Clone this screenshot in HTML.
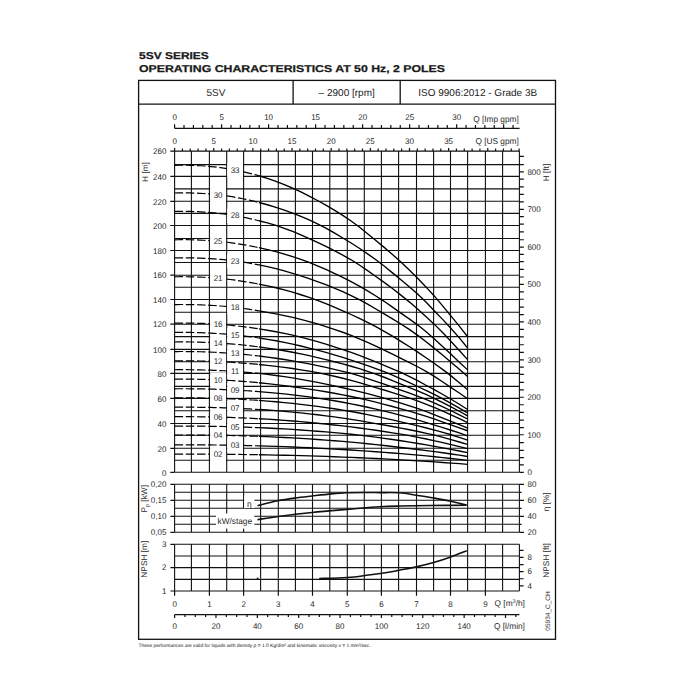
<!DOCTYPE html>
<html><head><meta charset="utf-8"><style>html,body{margin:0;padding:0;width:700px;height:700px;overflow:hidden;background:#fff}</style></head>
<body>
<svg width="700" height="700" viewBox="0 0 700 700" text-rendering="geometricPrecision" style="position:absolute;left:0;top:0">
<rect width="700" height="700" fill="#fff"/>
<text x="139" y="59" font-family="Liberation Sans, sans-serif" font-weight="bold" font-size="9.9" fill="#1a1a1a" stroke="#1a1a1a" stroke-width="0.25" textLength="69.8" lengthAdjust="spacingAndGlyphs">5SV SERIES</text>
<text x="139" y="71.8" font-family="Liberation Sans, sans-serif" font-weight="bold" font-size="9.9" fill="#1a1a1a" stroke="#1a1a1a" stroke-width="0.25" textLength="306" lengthAdjust="spacingAndGlyphs">OPERATING CHARACTERISTICS AT 50 Hz, 2 POLES</text>
<g fill="none" stroke="#111" stroke-width="1.3">
<rect x="138.6" y="80.4" width="416.9" height="558.9"/>
<line x1="138.6" y1="104.2" x2="555.5" y2="104.2"/>
<line x1="293.1" y1="80.4" x2="293.1" y2="104.2"/>
<line x1="400.2" y1="80.4" x2="400.2" y2="104.2"/>
</g>
<g font-family="Liberation Sans, sans-serif" font-size="10" fill="#222" text-anchor="middle">
<text x="216" y="96">5SV</text>
<text x="346.7" y="96">– 2900 [rpm]</text>
<text x="477.7" y="96">ISO 9906:2012 - Grade 3B</text>
</g>
<path fill="none" stroke="#111" stroke-width="1.1" d="M174.6 151.1V472.3M191.4 151.1V472.3M209.4 151.1V472.3M226.7 151.1V472.3M243.6 151.1V472.3M260.6 151.1V472.3M278.3 151.1V472.3M295.4 151.1V472.3M312.5 151.1V472.3M329.8 151.1V472.3M347.3 151.1V472.3M364.3 151.1V472.3M381.4 151.1V472.3M398.6 151.1V472.3M416.5 151.1V472.3M433.6 151.1V472.3M450.5 151.1V472.3M467.6 151.1V472.3M485.4 151.1V472.3M502.6 151.1V472.3M519.4 151.1V472.3M174.6 472.3H519.4M174.6 460.2H519.4M174.6 448.3H519.4M174.6 435.3H519.4M174.6 423.5H519.4M174.6 410.8H519.4M174.6 398.4H519.4M174.6 386.4H519.4M174.6 373.4H519.4M174.6 361.7H519.4M174.6 349.4H519.4M174.6 336.6H519.4M174.6 324.2H519.4M174.6 312.3H519.4M174.6 299.5H519.4M174.6 287.3H519.4M174.6 275.2H519.4M174.6 262.5H519.4M174.6 250.5H519.4M174.6 238.5H519.4M174.6 225.5H519.4M174.6 213.4H519.4M174.6 201.3H519.4M174.6 188.9H519.4M174.6 176.4H519.4M174.6 164.6H519.4M174.6 151.1H519.4M174.6 484.3V532.3M191.4 484.3V532.3M209.4 484.3V532.3M226.7 484.3V532.3M243.6 484.3V532.3M260.6 484.3V532.3M278.3 484.3V532.3M295.4 484.3V532.3M312.5 484.3V532.3M329.8 484.3V532.3M347.3 484.3V532.3M364.3 484.3V532.3M381.4 484.3V532.3M398.6 484.3V532.3M416.5 484.3V532.3M433.6 484.3V532.3M450.5 484.3V532.3M467.6 484.3V532.3M485.4 484.3V532.3M502.6 484.3V532.3M519.4 484.3V532.3M174.6 484.3H519.4M174.6 492.3H519.4M174.6 500.3H519.4M174.6 508.3H519.4M174.6 516.3H519.4M174.6 524.3H519.4M174.6 532.3H519.4M174.6 544.3V591M191.4 544.3V591M209.4 544.3V591M226.7 544.3V591M243.6 544.3V591M260.6 544.3V591M278.3 544.3V591M295.4 544.3V591M312.5 544.3V591M329.8 544.3V591M347.3 544.3V591M364.3 544.3V591M381.4 544.3V591M398.6 544.3V591M416.5 544.3V591M433.6 544.3V591M450.5 544.3V591M467.6 544.3V591M485.4 544.3V591M502.6 544.3V591M519.4 544.3V591M174.6 591H519.4M174.6 579.33H519.4M174.6 567.65H519.4M174.6 555.98H519.4M174.6 544.3H519.4"/>
<path fill="none" stroke="#111" stroke-width="1.2" d="M174.6 128.3H519.6M174.6 128.3V124.3M184 128.3V125.1M193.4 128.3V125.1M202.81 128.3V125.1M212.21 128.3V125.1M221.61 128.3V124.3M231.01 128.3V125.1M240.41 128.3V125.1M249.82 128.3V125.1M259.22 128.3V125.1M268.62 128.3V124.3M278.02 128.3V125.1M287.42 128.3V125.1M296.83 128.3V125.1M306.23 128.3V125.1M315.63 128.3V124.3M325.03 128.3V125.1M334.43 128.3V125.1M343.84 128.3V125.1M353.24 128.3V125.1M362.64 128.3V124.3M372.04 128.3V125.1M381.44 128.3V125.1M390.85 128.3V125.1M400.25 128.3V125.1M409.65 128.3V124.3M419.05 128.3V125.1M428.45 128.3V125.1M437.86 128.3V125.1M447.26 128.3V125.1M456.66 128.3V124.3M466.06 128.3V125.1M475.46 128.3V125.1M484.87 128.3V125.1M494.27 128.3V125.1M503.67 128.3V124.3M513.07 128.3V125.1M174.6 151.1V147.9M182.43 151.1V148.5M190.26 151.1V148.5M198.09 151.1V148.5M205.92 151.1V148.5M213.75 151.1V147.9M221.57 151.1V148.5M229.4 151.1V148.5M237.23 151.1V148.5M245.06 151.1V148.5M252.89 151.1V147.9M260.72 151.1V148.5M268.55 151.1V148.5M276.38 151.1V148.5M284.21 151.1V148.5M292.03 151.1V147.9M299.86 151.1V148.5M307.69 151.1V148.5M315.52 151.1V148.5M323.35 151.1V148.5M331.18 151.1V147.9M339.01 151.1V148.5M346.84 151.1V148.5M354.67 151.1V148.5M362.5 151.1V148.5M370.32 151.1V147.9M378.15 151.1V148.5M385.98 151.1V148.5M393.81 151.1V148.5M401.64 151.1V148.5M409.47 151.1V147.9M417.3 151.1V148.5M425.13 151.1V148.5M432.96 151.1V148.5M440.79 151.1V148.5M448.62 151.1V147.9M456.44 151.1V148.5M464.27 151.1V148.5M472.1 151.1V148.5M479.93 151.1V148.5M487.76 151.1V147.9M495.59 151.1V148.5M503.42 151.1V148.5M511.25 151.1V148.5M519.08 151.1V148.5M170.3 472.3H174.6M170.3 448.3H174.6M170.3 423.5H174.6M170.3 398.4H174.6M170.3 373.4H174.6M170.3 349.4H174.6M170.3 324.2H174.6M170.3 299.5H174.6M170.3 275.2H174.6M170.3 250.5H174.6M170.3 225.5H174.6M170.3 201.3H174.6M170.3 176.4H174.6M170.3 151.1H174.6M519.4 472.3H523.8M519.4 464.92H523.8M519.4 457.59H523.8M519.4 450.34H523.8M519.4 442.6H523.8M519.4 434.73H523.8M519.4 427.54H523.8M519.4 420.11H523.8M519.4 412.36H523.8M519.4 404.77H523.8M519.4 397.25H523.8M519.4 389.93H523.8M519.4 382.3H523.8M519.4 374.38H523.8M519.4 367.15H523.8M519.4 359.93H523.8M519.4 352.43H523.8M519.4 344.75H523.8M519.4 336.95H523.8M519.4 329.38H523.8M519.4 321.92H523.8M519.4 314.66H523.8M519.4 307.04H523.8M519.4 299.25H523.8M519.4 291.81H523.8M519.4 284.4H523.8M519.4 277.02H523.8M519.4 269.37H523.8M519.4 261.67H523.8M519.4 254.36H523.8M519.4 247.04H523.8M519.4 239.73H523.8M519.4 231.91H523.8M519.4 224.09H523.8M519.4 216.71H523.8M519.4 209.33H523.8M519.4 201.96H523.8M519.4 194.42H523.8M519.4 186.84H523.8M519.4 179.22H523.8M519.4 171.87H523.8M519.4 164.68H523.8M519.4 156.46H523.8M170.4 484.3H174.6M170.4 500.3H174.6M170.4 516.3H174.6M170.4 532.3H174.6M519.4 484.3H524M519.4 492.3H521.6M519.4 500.3H524M519.4 508.3H521.6M519.4 516.3H524M519.4 524.3H521.6M519.4 532.3H524M170.4 591H174.6M170.4 567.65H174.6M170.4 544.3H174.6M519.4 585.88H523.6M519.4 578.76H523.6M519.4 571.65H523.6M519.4 564.53H523.6M519.4 557.41H523.6M519.4 550.3H523.6M174.6 591V595.7M209.4 591V595.7M243.6 591V595.7M278.3 591V595.7M312.5 591V595.7M347.3 591V595.7M381.4 591V595.7M416.5 591V595.7M450.5 591V595.7M485.4 591V595.7M174.6 614.7H519.4M174.6 614.7V618M184.94 614.7V617M195.28 614.7V617M205.62 614.7V617M215.96 614.7V618M226.31 614.7V617M236.65 614.7V617M246.99 614.7V617M257.33 614.7V618M267.67 614.7V617M278.01 614.7V617M288.35 614.7V617M298.69 614.7V618M309.03 614.7V617M319.37 614.7V617M329.72 614.7V617M340.06 614.7V618M350.4 614.7V617M360.74 614.7V617M371.08 614.7V617M381.42 614.7V618M391.76 614.7V617M402.1 614.7V617M412.44 614.7V617M422.78 614.7V618M433.12 614.7V617M443.47 614.7V617M453.81 614.7V617M464.15 614.7V618M474.49 614.7V617M484.83 614.7V617M495.17 614.7V617M505.51 614.7V618M515.85 614.7V617"/>
<rect x="227.2" y="162.98" width="15.8" height="14.4" fill="#fff"/>
<rect x="210.2" y="187.7" width="15.8" height="14.4" fill="#fff"/>
<rect x="227.2" y="208.59" width="15.8" height="14.4" fill="#fff"/>
<rect x="210.2" y="234.21" width="15.8" height="14.4" fill="#fff"/>
<rect x="227.2" y="253.89" width="15.8" height="14.4" fill="#fff"/>
<rect x="210.2" y="271.16" width="15.8" height="14.4" fill="#fff"/>
<rect x="227.2" y="300.33" width="15.8" height="14.4" fill="#fff"/>
<rect x="210.2" y="317.14" width="15.8" height="14.4" fill="#fff"/>
<rect x="227.2" y="327.89" width="15.8" height="14.4" fill="#fff"/>
<rect x="210.2" y="335.85" width="15.8" height="14.4" fill="#fff"/>
<rect x="227.2" y="346.51" width="15.8" height="14.4" fill="#fff"/>
<rect x="210.2" y="354.47" width="15.8" height="14.4" fill="#fff"/>
<rect x="227.2" y="364.34" width="15.8" height="14.4" fill="#fff"/>
<rect x="210.2" y="372.78" width="15.8" height="14.4" fill="#fff"/>
<rect x="227.2" y="382.96" width="15.8" height="14.4" fill="#fff"/>
<rect x="210.2" y="391.24" width="15.8" height="14.4" fill="#fff"/>
<rect x="227.2" y="401.13" width="15.8" height="14.4" fill="#fff"/>
<rect x="210.2" y="410" width="15.8" height="14.4" fill="#fff"/>
<rect x="227.2" y="419.71" width="15.8" height="14.4" fill="#fff"/>
<rect x="210.2" y="428.17" width="15.8" height="14.4" fill="#fff"/>
<rect x="227.2" y="438.19" width="15.8" height="14.4" fill="#fff"/>
<rect x="210.2" y="447.13" width="15.8" height="14.4" fill="#fff"/>
<rect x="244.2" y="496" width="10.1" height="12" fill="#fff"/>
<rect x="216" y="513.5" width="38.3" height="15.1" fill="#fff"/>
<rect x="242.5" y="508.8" width="3" height="5" fill="#fff"/>
<path fill="none" stroke="#000" stroke-width="1.2" stroke-dasharray="8.5 2.7" d="M174.6 165.33 L177.77 165.26 L180.94 165.22 L184.1 165.22 L187.27 165.25 L190.44 165.32 L193.77 165.43 L197.16 165.58 L200.55 165.76 L203.95 165.99 L207.34 166.25 L210.68 166.55 L213.95 166.88 L217.21 167.26 L220.47 167.68 L223.73 168.13 L226.99 168.63 M243.66 171.87 L246.71 172.57 L249.76 173.32 L252.8 174.1 L255.85 174.92 L258.9 175.77 M174.6 192.98 L177.7 192.91 L180.8 192.87 L183.9 192.86 L187.01 192.89 L190.11 192.94 L193.34 193.03 L196.66 193.16 L199.98 193.32 L203.31 193.51 L206.63 193.73 L209.93 193.99 M226.99 195.95 L230.17 196.44 L233.35 196.96 L236.54 197.53 L239.72 198.13 L242.9 198.77 L246.1 199.44 L249.3 200.16 L252.5 200.91 L255.7 201.69 L258.9 202.5 M174.6 211.47 L177.77 211.4 L180.94 211.37 L184.1 211.37 L187.27 211.4 L190.44 211.47 L193.77 211.57 L197.16 211.7 L200.55 211.86 L203.95 212.06 L207.34 212.3 L210.68 212.56 L213.95 212.86 L217.21 213.2 L220.47 213.57 L223.73 213.97 L226.99 214.41 M243.66 217.28 L246.71 217.91 L249.76 218.57 L252.8 219.26 L255.85 219.98 L258.9 220.74 M174.6 239.79 L177.7 239.73 L180.8 239.7 L183.9 239.7 L187.01 239.72 L190.11 239.77 L193.34 239.85 L196.66 239.95 L199.98 240.08 L203.31 240.24 L206.63 240.42 L209.93 240.64 M226.99 242.26 L230.17 242.66 L233.35 243.1 L236.54 243.56 L239.72 244.06 L242.9 244.58 L246.1 245.14 L249.3 245.73 L252.5 246.35 L255.7 247 L258.9 247.68 M174.6 257.93 L177.77 257.87 L180.94 257.84 L184.1 257.84 L187.27 257.85 L190.44 257.9 L193.77 257.96 L197.16 258.05 L200.55 258.17 L203.95 258.31 L207.34 258.48 L210.68 258.67 L213.95 258.89 L217.21 259.14 L220.47 259.41 L223.73 259.71 L226.99 260.03 M243.66 262.18 L246.71 262.66 L249.76 263.18 L252.8 263.74 L255.85 264.32 L258.9 264.93 M174.6 276.78 L177.7 276.73 L180.8 276.71 L183.9 276.71 L187.01 276.74 L190.11 276.79 L193.34 276.86 L196.66 276.97 L199.98 277.09 L203.31 277.24 L206.63 277.42 L209.93 277.63 M226.99 279.15 L230.17 279.52 L233.35 279.92 L236.54 280.35 L239.72 280.81 L242.9 281.29 L246.1 281.8 L249.3 282.34 L252.5 282.91 L255.7 283.5 L258.9 284.12 M174.6 304.59 L177.77 304.54 L180.94 304.52 L184.1 304.52 L187.27 304.54 L190.44 304.58 L193.77 304.65 L197.16 304.74 L200.55 304.85 L203.95 304.98 L207.34 305.14 L210.68 305.32 L213.95 305.52 L217.21 305.75 L220.47 306 L223.73 306.27 L226.99 306.57 M243.66 308.5 L246.71 308.92 L249.76 309.37 L252.8 309.83 L255.85 310.32 L258.9 310.83 M174.6 323.12 L177.7 323.08 L180.8 323.06 L183.9 323.06 L187.01 323.09 L190.11 323.13 L193.34 323.18 L196.66 323.26 L199.98 323.36 L203.31 323.47 L206.63 323.61 L209.93 323.76 M226.99 324.94 L230.17 325.24 L233.35 325.55 L236.54 325.89 L239.72 326.25 L242.9 326.63 L246.1 327.03 L249.3 327.46 L252.5 327.91 L255.7 328.37 L258.9 328.86 M174.6 332.44 L177.77 332.41 L180.94 332.39 L184.1 332.39 L187.27 332.42 L190.44 332.46 L193.77 332.52 L197.16 332.6 L200.55 332.7 L203.95 332.83 L207.34 332.97 L210.68 333.13 L213.95 333.31 L217.21 333.51 L220.47 333.73 L223.73 333.97 L226.99 334.23 M243.66 335.92 L246.71 336.28 L249.76 336.67 L252.8 337.09 L255.85 337.53 L258.9 337.98 M174.6 341.98 L177.7 341.95 L180.8 341.93 L183.9 341.93 L187.01 341.94 L190.11 341.98 L193.34 342.02 L196.66 342.09 L199.98 342.17 L203.31 342.28 L206.63 342.39 L209.93 342.53 M226.99 343.54 L230.17 343.8 L233.35 344.07 L236.54 344.35 L239.72 344.66 L242.9 344.99 L246.1 345.33 L249.3 345.7 L252.5 346.08 L255.7 346.48 L258.9 346.9 M174.6 351.56 L177.77 351.53 L180.94 351.52 L184.1 351.52 L187.27 351.54 L190.44 351.57 L193.77 351.62 L197.16 351.68 L200.55 351.76 L203.95 351.86 L207.34 351.97 L210.68 352.1 L213.95 352.25 L217.21 352.41 L220.47 352.59 L223.73 352.78 L226.99 352.99 M243.66 354.37 L246.71 354.67 L249.76 354.98 L252.8 355.31 L255.85 355.66 L258.9 356.02 M174.6 360.86 L177.7 360.83 L180.8 360.81 L183.9 360.81 L187.01 360.82 L190.11 360.84 L193.34 360.88 L196.66 360.93 L199.98 360.99 L203.31 361.06 L206.63 361.15 L209.93 361.25 M226.99 362.01 L230.17 362.19 L233.35 362.39 L236.54 362.6 L239.72 362.82 L242.9 363.06 L246.1 363.31 L249.3 363.58 L252.5 363.86 L255.7 364.16 L258.9 364.47 M174.6 369.74 L177.77 369.72 L180.94 369.71 L184.1 369.71 L187.27 369.72 L190.44 369.75 L193.77 369.79 L197.16 369.85 L200.55 369.91 L203.95 369.99 L207.34 370.09 L210.68 370.19 L213.95 370.32 L217.21 370.45 L220.47 370.6 L223.73 370.76 L226.99 370.93 M243.66 372.07 L246.71 372.32 L249.76 372.58 L252.8 372.85 L255.85 373.14 L258.9 373.44 M174.6 379.16 L177.7 379.13 L180.8 379.12 L183.9 379.12 L187.01 379.14 L190.11 379.16 L193.34 379.2 L196.66 379.25 L199.98 379.31 L203.31 379.38 L206.63 379.47 L209.93 379.57 M226.99 380.32 L230.17 380.51 L233.35 380.71 L236.54 380.92 L239.72 381.14 L242.9 381.38 L246.1 381.63 L249.3 381.9 L252.5 382.18 L255.7 382.47 L258.9 382.78 M174.6 388.78 L177.77 388.76 L180.94 388.75 L184.1 388.75 L187.27 388.76 L190.44 388.78 L193.77 388.81 L197.16 388.85 L200.55 388.9 L203.95 388.96 L207.34 389.03 L210.68 389.11 L213.95 389.2 L217.21 389.3 L220.47 389.41 L223.73 389.54 L226.99 389.67 M243.66 390.55 L246.71 390.75 L249.76 390.95 L252.8 391.16 L255.85 391.39 L258.9 391.62 M174.6 397.85 L177.7 397.83 L180.8 397.82 L183.9 397.82 L187.01 397.83 L190.11 397.85 L193.34 397.87 L196.66 397.9 L199.98 397.94 L203.31 397.99 L206.63 398.05 L209.93 398.12 M226.99 398.65 L230.17 398.78 L233.35 398.93 L236.54 399.08 L239.72 399.24 L242.9 399.42 L246.1 399.6 L249.3 399.79 L252.5 400 L255.7 400.22 L258.9 400.44 M174.6 407.21 L177.77 407.19 L180.94 407.18 L184.1 407.18 L187.27 407.19 L190.44 407.2 L193.77 407.22 L197.16 407.26 L200.55 407.3 L203.95 407.34 L207.34 407.4 L210.68 407.46 L213.95 407.54 L217.21 407.62 L220.47 407.71 L223.73 407.81 L226.99 407.92 M243.66 408.63 L246.71 408.78 L249.76 408.95 L252.8 409.12 L255.85 409.3 L258.9 409.49 M174.6 416.72 L177.7 416.7 L180.8 416.69 L183.9 416.69 L187.01 416.7 L190.11 416.71 L193.34 416.73 L196.66 416.76 L199.98 416.79 L203.31 416.83 L206.63 416.88 L209.93 416.93 M226.99 417.34 L230.17 417.44 L233.35 417.55 L236.54 417.67 L239.72 417.8 L242.9 417.93 L246.1 418.07 L249.3 418.22 L252.5 418.38 L255.7 418.54 L258.9 418.72 M174.6 426.11 L177.77 426.1 L180.94 426.1 L184.1 426.1 L187.27 426.1 L190.44 426.11 L193.77 426.13 L197.16 426.15 L200.55 426.17 L203.95 426.21 L207.34 426.25 L210.68 426.29 L213.95 426.34 L217.21 426.4 L220.47 426.46 L223.73 426.52 L226.99 426.6 M243.66 427.08 L246.71 427.19 L249.76 427.3 L252.8 427.41 L255.85 427.54 L258.9 427.66 M174.6 435.03 L177.7 435.02 L180.8 435.02 L183.9 435.02 L187.01 435.02 L190.11 435.03 L193.34 435.04 L196.66 435.06 L199.98 435.08 L203.31 435.1 L206.63 435.13 L209.93 435.16 M226.99 435.43 L230.17 435.5 L233.35 435.58 L236.54 435.66 L239.72 435.74 L242.9 435.83 L246.1 435.93 L249.3 436.03 L252.5 436.14 L255.7 436.25 L258.9 436.37 M174.6 444.83 L177.77 444.82 L180.94 444.82 L184.1 444.82 L187.27 444.82 L190.44 444.83 L193.77 444.84 L197.16 444.85 L200.55 444.87 L203.95 444.89 L207.34 444.92 L210.68 444.94 L213.95 444.98 L217.21 445.01 L220.47 445.05 L223.73 445.1 L226.99 445.15 M243.66 445.47 L246.71 445.54 L249.76 445.61 L252.8 445.69 L255.85 445.77 L258.9 445.85 M174.6 454.11 L177.7 454.11 L180.8 454.11 L183.9 454.11 L187.01 454.11 L190.11 454.11 L193.34 454.12 L196.66 454.13 L199.98 454.14 L203.31 454.15 L206.63 454.16 L209.93 454.18 M226.99 454.31 L230.17 454.34 L233.35 454.38 L236.54 454.41 L239.72 454.45 L242.9 454.49 L246.1 454.54 L249.3 454.58 L252.5 454.63 L255.7 454.69 L258.9 454.74"/>
<path fill="none" stroke="#000" stroke-width="1.35" d="M258.9 175.77 L267.4 178.39 L275.96 181.33 L284.32 184.57 L292.6 188.12 L300.87 191.95 L309.15 196.07 L317.48 200.51 L325.86 205.17 L334.28 210.12 L342.75 215.39 L351.11 220.97 L359.34 226.97 L367.58 233.66 L375.86 240.54 L384.15 247.37 L392.48 254.54 L400.89 262.04 L409.55 270.31 L418.14 278.8 L426.42 287.41 L434.68 296.44 L442.86 306.15 L451.05 316.1 L459.32 326.05 L467.6 336.72 M258.9 202.5 L267.4 204.76 L275.96 207.28 L284.32 210.06 L292.6 213.1 L300.87 216.41 L309.15 219.99 L317.48 223.85 L325.86 228.18 L334.28 232.93 L342.75 238 L351.11 243 L359.34 248.26 L367.58 253.82 L375.86 259.67 L384.15 266.03 L392.48 272.88 L400.89 279.84 L409.55 287 L418.14 294.55 L426.42 302.58 L434.68 311.2 L442.86 319.62 L451.05 328.47 L459.32 337.91 L467.6 347.97 M258.9 220.74 L267.4 222.96 L275.96 225.41 L284.32 228.32 L292.6 231.49 L300.87 234.95 L309.15 238.66 L317.48 242.36 L325.86 246.32 L334.28 250.55 L342.75 255.04 L351.11 259.8 L359.34 264.97 L367.58 270.59 L375.86 276.45 L384.15 282.37 L392.48 288.58 L400.89 295.14 L409.55 302.1 L418.14 309.6 L426.42 317.06 L434.68 324.64 L442.86 332.83 L451.05 341.49 L459.32 350.55 L467.6 359.63 M258.9 247.68 L267.4 249.58 L275.96 251.7 L284.32 254.04 L292.6 256.59 L300.87 259.37 L309.15 262.38 L317.48 265.8 L325.86 269.48 L334.28 273.4 L342.75 277.47 L351.11 281.7 L359.34 286.17 L367.58 290.93 L375.86 295.95 L384.15 301.31 L392.48 307.13 L400.89 313.16 L409.55 319.09 L418.14 325.33 L426.42 332.07 L434.68 339.17 L442.86 346.71 L451.05 354.35 L459.32 362.15 L467.6 369.88 M258.9 264.93 L267.4 266.71 L275.96 268.69 L284.32 270.89 L292.6 273.3 L300.87 275.9 L309.15 278.61 L317.48 281.54 L325.86 284.69 L334.28 288.06 L342.75 291.69 L351.11 295.54 L359.34 299.64 L367.58 304.18 L375.86 308.97 L384.15 313.9 L392.48 318.83 L400.89 324.02 L409.55 329.67 L418.14 335.59 L426.42 341.95 L434.68 348.62 L442.86 355.33 L451.05 362.26 L459.32 369.15 L467.6 376.62 M258.9 284.12 L267.4 285.85 L275.96 287.78 L284.32 289.9 L292.6 292.22 L300.87 294.73 L309.15 297.43 L317.48 300.38 L325.86 303.63 L334.28 307.1 L342.75 310.78 L351.11 314.5 L359.34 318.32 L367.58 322.35 L375.86 326.67 L384.15 331.29 L392.48 336.13 L400.89 341.33 L409.55 346.77 L418.14 352.32 L426.42 358 L434.68 363.78 L442.86 369.6 L451.05 375.89 L459.32 382.84 L467.6 389.75 M258.9 310.83 L267.4 312.32 L275.96 313.86 L284.32 315.56 L292.6 317.41 L300.87 319.42 L309.15 321.59 L317.48 323.93 L325.86 326.52 L334.28 329.3 L342.75 332.25 L351.11 335.38 L359.34 338.76 L367.58 342.37 L375.86 346.16 L384.15 350.11 L392.48 354.12 L400.89 358.32 L409.55 362.66 L418.14 367.02 L426.42 371.56 L434.68 376.6 L442.86 382.06 L451.05 387.63 L459.32 393.05 L467.6 398.69 M258.9 328.86 L267.4 330.22 L275.96 331.73 L284.32 333.39 L292.6 335.19 L300.87 337.16 L309.15 339.34 L317.48 341.67 L325.86 344.16 L334.28 346.81 L342.75 349.62 L351.11 352.48 L359.34 355.49 L367.58 358.67 L375.86 361.99 L384.15 365.32 L392.48 368.8 L400.89 372.43 L409.55 376.54 L418.14 380.93 L426.42 385.5 L434.68 389.95 L442.86 394.5 L451.05 399.24 L459.32 404.28 L467.6 409.5 M258.9 337.98 L267.4 339.31 L275.96 340.77 L284.32 342.38 L292.6 344.13 L300.87 346.03 L309.15 348.07 L317.48 350.22 L325.86 352.46 L334.28 354.85 L342.75 357.37 L351.11 360.04 L359.34 362.8 L367.58 365.61 L375.86 368.57 L384.15 371.66 L392.48 375.06 L400.89 378.82 L409.55 382.73 L418.14 386.76 L426.42 390.67 L434.68 394.72 L442.86 398.94 L451.05 403.44 L459.32 408.09 L467.6 412.95 M258.9 346.9 L267.4 348.08 L275.96 349.38 L284.32 350.76 L292.6 352.26 L300.87 353.9 L309.15 355.66 L317.48 357.56 L325.86 359.59 L334.28 361.75 L342.75 363.94 L351.11 366.25 L359.34 368.7 L367.58 371.29 L375.86 374.07 L384.15 377.25 L392.48 380.57 L400.89 384.05 L409.55 387.59 L418.14 391.09 L426.42 394.73 L434.68 398.53 L442.86 402.61 L451.05 406.84 L459.32 411.24 L467.6 415.9 M258.9 356.02 L267.4 357.07 L275.96 358.24 L284.32 359.52 L292.6 360.92 L300.87 362.4 L309.15 363.95 L317.48 365.61 L325.86 367.39 L334.28 369.29 L342.75 371.3 L351.11 373.43 L359.34 375.93 L367.58 378.56 L375.86 381.32 L384.15 384.21 L392.48 387.18 L400.89 390.1 L409.55 393.15 L418.14 396.33 L426.42 399.68 L434.68 403.23 L442.86 406.91 L451.05 410.74 L459.32 414.79 L467.6 418.98 M258.9 364.47 L267.4 365.34 L275.96 366.31 L284.32 367.37 L292.6 368.54 L300.87 369.82 L309.15 371.2 L317.48 372.68 L325.86 374.37 L334.28 376.26 L342.75 378.28 L351.11 380.42 L359.34 382.69 L367.58 385.09 L375.86 387.53 L384.15 389.99 L392.48 392.57 L400.89 395.28 L409.55 398.11 L418.14 401.17 L426.42 404.37 L434.68 407.7 L442.86 411.18 L451.05 414.88 L459.32 418.73 L467.6 422.72 M258.9 373.44 L267.4 374.4 L275.96 375.47 L284.32 376.64 L292.6 377.92 L300.87 379.3 L309.15 380.79 L317.48 382.39 L325.86 384.09 L334.28 385.91 L342.75 387.72 L351.11 389.6 L359.34 391.58 L367.58 393.67 L375.86 395.86 L384.15 398.15 L392.48 400.63 L400.89 403.22 L409.55 405.92 L418.14 408.73 L426.42 411.68 L434.68 414.79 L442.86 418.02 L451.05 421.37 L459.32 424.74 L467.6 428.07 M258.9 382.78 L267.4 383.63 L275.96 384.58 L284.32 385.62 L292.6 386.72 L300.87 387.86 L309.15 389.08 L317.48 390.38 L325.86 391.78 L334.28 393.27 L342.75 394.84 L351.11 396.51 L359.34 398.27 L367.58 400.18 L375.86 402.19 L384.15 404.3 L392.48 406.5 L400.89 408.8 L409.55 411.21 L418.14 413.77 L426.42 416.44 L434.68 419.2 L442.86 422.07 L451.05 424.94 L459.32 427.8 L467.6 430.76 M258.9 391.62 L267.4 392.31 L275.96 393.07 L284.32 393.92 L292.6 394.84 L300.87 395.85 L309.15 396.93 L317.48 398.1 L325.86 399.39 L334.28 400.78 L342.75 402.26 L351.11 403.83 L359.34 405.49 L367.58 407.25 L375.86 409.1 L384.15 411.06 L392.48 413.16 L400.89 415.36 L409.55 417.66 L418.14 420.06 L426.42 422.58 L434.68 425.07 L442.86 427.61 L451.05 430.24 L459.32 432.98 L467.6 435.87 M258.9 400.44 L267.4 401.07 L275.96 401.77 L284.32 402.55 L292.6 403.4 L300.87 404.32 L309.15 405.32 L317.48 406.4 L325.86 407.55 L334.28 408.78 L342.75 410.1 L351.11 411.51 L359.34 413.03 L367.58 414.63 L375.86 416.31 L384.15 418.09 L392.48 419.95 L400.89 421.91 L409.55 423.92 L418.14 425.91 L426.42 427.98 L434.68 430.14 L442.86 432.39 L451.05 434.74 L459.32 437.36 L467.6 440.14 M258.9 409.49 L267.4 410.04 L275.96 410.65 L284.32 411.34 L292.6 412.1 L300.87 412.93 L309.15 413.83 L317.48 414.79 L325.86 415.83 L334.28 416.93 L342.75 418.11 L351.11 419.36 L359.34 420.68 L367.58 422.08 L375.86 423.56 L384.15 425 L392.48 426.51 L400.89 428.1 L409.55 429.77 L418.14 431.51 L426.42 433.32 L434.68 435.21 L442.86 437.37 L451.05 439.63 L459.32 441.98 L467.6 444.41 M258.9 418.72 L267.4 419.2 L275.96 419.74 L284.32 420.34 L292.6 420.99 L300.87 421.7 L309.15 422.46 L317.48 423.29 L325.86 424.13 L334.28 425.01 L342.75 425.95 L351.11 426.95 L359.34 428 L367.58 429.12 L375.86 430.29 L384.15 431.53 L392.48 432.83 L400.89 434.19 L409.55 435.65 L418.14 437.29 L426.42 439 L434.68 440.79 L442.86 442.65 L451.05 444.58 L459.32 446.59 L467.6 448.65 M258.9 427.66 L267.4 428.04 L275.96 428.46 L284.32 428.92 L292.6 429.42 L300.87 429.97 L309.15 430.57 L317.48 431.21 L325.86 431.89 L334.28 432.63 L342.75 433.41 L351.11 434.24 L359.34 435.12 L367.58 436.12 L375.86 437.2 L384.15 438.34 L392.48 439.53 L400.89 440.78 L409.55 442.09 L418.14 443.46 L426.42 444.89 L434.68 446.37 L442.86 447.92 L451.05 449.43 L459.32 450.97 L467.6 452.56 M258.9 436.37 L267.4 436.7 L275.96 437.07 L284.32 437.47 L292.6 437.92 L300.87 438.4 L309.15 438.93 L317.48 439.49 L325.86 440.1 L334.28 440.74 L342.75 441.43 L351.11 442.16 L359.34 442.94 L367.58 443.76 L375.86 444.62 L384.15 445.53 L392.48 446.48 L400.89 447.48 L409.55 448.51 L418.14 449.51 L426.42 450.56 L434.68 451.65 L442.86 452.78 L451.05 453.97 L459.32 455.19 L467.6 456.47 M258.9 445.85 L267.4 446.1 L275.96 446.38 L284.32 446.68 L292.6 447.01 L300.87 447.38 L309.15 447.77 L317.48 448.19 L325.86 448.62 L334.28 449.06 L342.75 449.53 L351.11 450.04 L359.34 450.57 L367.58 451.13 L375.86 451.72 L384.15 452.35 L392.48 453 L400.89 453.69 L409.55 454.41 L418.14 455.16 L426.42 455.94 L434.68 456.76 L442.86 457.61 L451.05 458.5 L459.32 459.42 L467.6 460.38 M258.9 454.74 L267.4 454.89 L275.96 455.06 L284.32 455.25 L292.6 455.45 L300.87 455.67 L309.15 455.91 L317.48 456.17 L325.86 456.45 L334.28 456.74 L342.75 457.06 L351.11 457.39 L359.34 457.75 L367.58 458.12 L375.86 458.52 L384.15 458.93 L392.48 459.37 L400.89 459.83 L409.55 460.31 L418.14 460.82 L426.42 461.35 L434.68 461.9 L442.86 462.48 L451.05 463.08 L459.32 463.7 L467.6 464.35"/>
<path fill="none" stroke="#111" stroke-width="1.6" d="M257.5 505.7 C260.88 504.88 271.55 502.08 277.8 500.8 C284.05 499.52 289.3 498.8 295 498 C300.7 497.2 305.93 496.68 312 496 C318.07 495.32 325.67 494.43 331.4 493.9 C337.13 493.37 340.97 493.03 346.4 492.8 C351.83 492.57 358.4 492.53 364 492.5 C369.6 492.47 374.12 492.55 380 492.6 C385.88 492.65 393.23 492.37 399.3 492.8 C405.37 493.23 410.7 494.33 416.4 495.2 C422.1 496.07 427.78 497 433.5 498 C439.22 499 445.17 500.03 450.7 501.2 C456.23 502.37 464.03 504.37 466.7 505 M257.5 519.6 C261.6 519 273.02 517.18 282.1 516 C291.18 514.82 301.35 513.58 312 512.5 C322.65 511.42 334.67 510.45 346 509.5 C357.33 508.55 371 507.38 380 506.8 C389 506.22 391.67 506.22 400 506 C408.33 505.78 418.88 505.63 430 505.5 C441.12 505.37 460.58 505.25 466.7 505.2 M319.2 578.5 C323.83 578.33 338.78 578.08 347 577.5 C355.22 576.92 361.33 575.92 368.5 575 C375.67 574.08 384.87 572.8 390 572 C395.13 571.2 394.9 571.05 399.3 570.2 C403.7 569.35 410.7 568.17 416.4 566.9 C422.1 565.63 427.78 564.25 433.5 562.6 C439.22 560.95 445.17 558.97 450.7 557 C456.23 555.03 464.03 551.83 466.7 550.8"/>
<path fill="none" stroke="#999" stroke-width="0.6" stroke-dasharray="1 5" d="M260 578.6H319"/>
<circle cx="257.6" cy="578.5" r="0.9" fill="#111"/>
<g font-family="Liberation Sans, sans-serif" fill="#2a2a2a"><text x="174.6" y="120" text-anchor="middle" font-size="8.24" textLength="4.45" lengthAdjust="spacingAndGlyphs" >0</text><text x="221.61" y="120" text-anchor="middle" font-size="8.24" textLength="4.45" lengthAdjust="spacingAndGlyphs" >5</text><text x="268.62" y="120" text-anchor="middle" font-size="8.24" textLength="8.9" lengthAdjust="spacingAndGlyphs" >10</text><text x="315.63" y="120" text-anchor="middle" font-size="8.24" textLength="8.9" lengthAdjust="spacingAndGlyphs" >15</text><text x="362.64" y="120" text-anchor="middle" font-size="8.24" textLength="8.9" lengthAdjust="spacingAndGlyphs" >20</text><text x="409.65" y="120" text-anchor="middle" font-size="8.24" textLength="8.9" lengthAdjust="spacingAndGlyphs" >25</text><text x="456.66" y="120" text-anchor="middle" font-size="8.24" textLength="8.9" lengthAdjust="spacingAndGlyphs" >30</text><text x="174.6" y="143.8" text-anchor="middle" font-size="8.24" textLength="4.45" lengthAdjust="spacingAndGlyphs" >0</text><text x="213.75" y="143.8" text-anchor="middle" font-size="8.24" textLength="4.45" lengthAdjust="spacingAndGlyphs" >5</text><text x="252.89" y="143.8" text-anchor="middle" font-size="8.24" textLength="8.9" lengthAdjust="spacingAndGlyphs" >10</text><text x="292.03" y="143.8" text-anchor="middle" font-size="8.24" textLength="8.9" lengthAdjust="spacingAndGlyphs" >15</text><text x="331.18" y="143.8" text-anchor="middle" font-size="8.24" textLength="8.9" lengthAdjust="spacingAndGlyphs" >20</text><text x="370.32" y="143.8" text-anchor="middle" font-size="8.24" textLength="8.9" lengthAdjust="spacingAndGlyphs" >25</text><text x="409.47" y="143.8" text-anchor="middle" font-size="8.24" textLength="8.9" lengthAdjust="spacingAndGlyphs" >30</text><text x="448.62" y="143.8" text-anchor="middle" font-size="8.24" textLength="8.9" lengthAdjust="spacingAndGlyphs" >35</text><text x="518.8" y="121.7" text-anchor="end" font-size="8.55" textLength="45.66" lengthAdjust="spacingAndGlyphs" >Q [Imp gpm]</text><text x="518.8" y="143.6" text-anchor="end" font-size="8.55" textLength="43.35" lengthAdjust="spacingAndGlyphs" >Q [US gpm]</text><text x="166.4" y="475.5" text-anchor="end" font-size="8.24" textLength="4.45" lengthAdjust="spacingAndGlyphs" >0</text><text x="166.4" y="451.5" text-anchor="end" font-size="8.24" textLength="8.9" lengthAdjust="spacingAndGlyphs" >20</text><text x="166.4" y="426.7" text-anchor="end" font-size="8.24" textLength="8.9" lengthAdjust="spacingAndGlyphs" >40</text><text x="166.4" y="401.6" text-anchor="end" font-size="8.24" textLength="8.9" lengthAdjust="spacingAndGlyphs" >60</text><text x="166.4" y="376.6" text-anchor="end" font-size="8.24" textLength="8.9" lengthAdjust="spacingAndGlyphs" >80</text><text x="166.4" y="352.6" text-anchor="end" font-size="8.24" textLength="13.35" lengthAdjust="spacingAndGlyphs" >100</text><text x="166.4" y="327.4" text-anchor="end" font-size="8.24" textLength="13.35" lengthAdjust="spacingAndGlyphs" >120</text><text x="166.4" y="302.7" text-anchor="end" font-size="8.24" textLength="13.35" lengthAdjust="spacingAndGlyphs" >140</text><text x="166.4" y="278.4" text-anchor="end" font-size="8.24" textLength="13.35" lengthAdjust="spacingAndGlyphs" >160</text><text x="166.4" y="253.7" text-anchor="end" font-size="8.24" textLength="13.35" lengthAdjust="spacingAndGlyphs" >180</text><text x="166.4" y="228.7" text-anchor="end" font-size="8.24" textLength="13.35" lengthAdjust="spacingAndGlyphs" >200</text><text x="166.4" y="204.5" text-anchor="end" font-size="8.24" textLength="13.35" lengthAdjust="spacingAndGlyphs" >220</text><text x="166.4" y="179.6" text-anchor="end" font-size="8.24" textLength="13.35" lengthAdjust="spacingAndGlyphs" >240</text><text x="166.4" y="154.3" text-anchor="end" font-size="8.24" textLength="13.35" lengthAdjust="spacingAndGlyphs" >260</text><text x="527.4" y="475.1" text-anchor="start" font-size="8.24" textLength="4.45" lengthAdjust="spacingAndGlyphs" >0</text><text x="527.4" y="437.53" text-anchor="start" font-size="8.24" textLength="13.35" lengthAdjust="spacingAndGlyphs" >100</text><text x="527.4" y="400.05" text-anchor="start" font-size="8.24" textLength="13.35" lengthAdjust="spacingAndGlyphs" >200</text><text x="527.4" y="362.73" text-anchor="start" font-size="8.24" textLength="13.35" lengthAdjust="spacingAndGlyphs" >300</text><text x="527.4" y="324.72" text-anchor="start" font-size="8.24" textLength="13.35" lengthAdjust="spacingAndGlyphs" >400</text><text x="527.4" y="287.2" text-anchor="start" font-size="8.24" textLength="13.35" lengthAdjust="spacingAndGlyphs" >500</text><text x="527.4" y="249.84" text-anchor="start" font-size="8.24" textLength="13.35" lengthAdjust="spacingAndGlyphs" >600</text><text x="527.4" y="212.13" text-anchor="start" font-size="8.24" textLength="13.35" lengthAdjust="spacingAndGlyphs" >700</text><text x="527.4" y="174.67" text-anchor="start" font-size="8.24" textLength="13.35" lengthAdjust="spacingAndGlyphs" >800</text><text x="166.4" y="487.1" text-anchor="end" font-size="8.24" textLength="15.57" lengthAdjust="spacingAndGlyphs" >0,20</text><text x="166.4" y="503.1" text-anchor="end" font-size="8.24" textLength="15.57" lengthAdjust="spacingAndGlyphs" >0,15</text><text x="166.4" y="519.1" text-anchor="end" font-size="8.24" textLength="15.57" lengthAdjust="spacingAndGlyphs" >0,10</text><text x="166.4" y="535.1" text-anchor="end" font-size="8.24" textLength="15.57" lengthAdjust="spacingAndGlyphs" >0,05</text><text x="527.5" y="487.1" text-anchor="start" font-size="8.24" textLength="8.9" lengthAdjust="spacingAndGlyphs" >80</text><text x="527.5" y="503.1" text-anchor="start" font-size="8.24" textLength="8.9" lengthAdjust="spacingAndGlyphs" >60</text><text x="527.5" y="519.1" text-anchor="start" font-size="8.24" textLength="8.9" lengthAdjust="spacingAndGlyphs" >40</text><text x="527.5" y="535.1" text-anchor="start" font-size="8.24" textLength="8.9" lengthAdjust="spacingAndGlyphs" >20</text><text x="166.4" y="593.8" text-anchor="end" font-size="8.24" textLength="4.45" lengthAdjust="spacingAndGlyphs" >1</text><text x="166.4" y="570.45" text-anchor="end" font-size="8.24" textLength="4.45" lengthAdjust="spacingAndGlyphs" >2</text><text x="166.4" y="547.1" text-anchor="end" font-size="8.24" textLength="4.45" lengthAdjust="spacingAndGlyphs" >3</text><text x="527.4" y="588.68" text-anchor="start" font-size="8.24" textLength="4.45" lengthAdjust="spacingAndGlyphs" >4</text><text x="527.4" y="574.45" text-anchor="start" font-size="8.24" textLength="4.45" lengthAdjust="spacingAndGlyphs" >6</text><text x="527.4" y="560.21" text-anchor="start" font-size="8.24" textLength="4.45" lengthAdjust="spacingAndGlyphs" >8</text><text x="174.6" y="607" text-anchor="middle" font-size="8.24" textLength="4.45" lengthAdjust="spacingAndGlyphs" >0</text><text x="209.4" y="607" text-anchor="middle" font-size="8.24" textLength="4.45" lengthAdjust="spacingAndGlyphs" >1</text><text x="243.6" y="607" text-anchor="middle" font-size="8.24" textLength="4.45" lengthAdjust="spacingAndGlyphs" >2</text><text x="278.3" y="607" text-anchor="middle" font-size="8.24" textLength="4.45" lengthAdjust="spacingAndGlyphs" >3</text><text x="312.5" y="607" text-anchor="middle" font-size="8.24" textLength="4.45" lengthAdjust="spacingAndGlyphs" >4</text><text x="347.3" y="607" text-anchor="middle" font-size="8.24" textLength="4.45" lengthAdjust="spacingAndGlyphs" >5</text><text x="381.4" y="607" text-anchor="middle" font-size="8.24" textLength="4.45" lengthAdjust="spacingAndGlyphs" >6</text><text x="416.5" y="607" text-anchor="middle" font-size="8.24" textLength="4.45" lengthAdjust="spacingAndGlyphs" >7</text><text x="450.5" y="607" text-anchor="middle" font-size="8.24" textLength="4.45" lengthAdjust="spacingAndGlyphs" >8</text><text x="485.4" y="607" text-anchor="middle" font-size="8.24" textLength="4.45" lengthAdjust="spacingAndGlyphs" >9</text><text x="174.6" y="629.2" text-anchor="middle" font-size="8.24" textLength="4.45" lengthAdjust="spacingAndGlyphs" >0</text><text x="215.96" y="629.2" text-anchor="middle" font-size="8.24" textLength="8.9" lengthAdjust="spacingAndGlyphs" >20</text><text x="257.33" y="629.2" text-anchor="middle" font-size="8.24" textLength="8.9" lengthAdjust="spacingAndGlyphs" >40</text><text x="298.69" y="629.2" text-anchor="middle" font-size="8.24" textLength="8.9" lengthAdjust="spacingAndGlyphs" >60</text><text x="340.06" y="629.2" text-anchor="middle" font-size="8.24" textLength="8.9" lengthAdjust="spacingAndGlyphs" >80</text><text x="381.42" y="629.2" text-anchor="middle" font-size="8.24" textLength="13.35" lengthAdjust="spacingAndGlyphs" >100</text><text x="422.78" y="629.2" text-anchor="middle" font-size="8.24" textLength="13.35" lengthAdjust="spacingAndGlyphs" >120</text><text x="464.15" y="629.2" text-anchor="middle" font-size="8.24" textLength="13.35" lengthAdjust="spacingAndGlyphs" >140</text><text x="524.9" y="606.3" text-anchor="end" font-size="8.3">Q [m<tspan font-size="5.5" dy="-3">3</tspan><tspan dy="3">/h]</tspan></text><text x="524.9" y="629.2" text-anchor="end" font-size="8.55" textLength="30.9" lengthAdjust="spacingAndGlyphs" >Q [l/min]</text><text x="235.1" y="172.78" text-anchor="middle" font-size="8.24" textLength="8.9" lengthAdjust="spacingAndGlyphs" >33</text><text x="218.1" y="197.5" text-anchor="middle" font-size="8.24" textLength="8.9" lengthAdjust="spacingAndGlyphs" >30</text><text x="235.1" y="218.39" text-anchor="middle" font-size="8.24" textLength="8.9" lengthAdjust="spacingAndGlyphs" >28</text><text x="218.1" y="244.01" text-anchor="middle" font-size="8.24" textLength="8.9" lengthAdjust="spacingAndGlyphs" >25</text><text x="235.1" y="263.69" text-anchor="middle" font-size="8.24" textLength="8.9" lengthAdjust="spacingAndGlyphs" >23</text><text x="218.1" y="280.96" text-anchor="middle" font-size="8.24" textLength="8.9" lengthAdjust="spacingAndGlyphs" >21</text><text x="235.1" y="310.13" text-anchor="middle" font-size="8.24" textLength="8.9" lengthAdjust="spacingAndGlyphs" >18</text><text x="218.1" y="326.94" text-anchor="middle" font-size="8.24" textLength="8.9" lengthAdjust="spacingAndGlyphs" >16</text><text x="235.1" y="337.69" text-anchor="middle" font-size="8.24" textLength="8.9" lengthAdjust="spacingAndGlyphs" >15</text><text x="218.1" y="345.65" text-anchor="middle" font-size="8.24" textLength="8.9" lengthAdjust="spacingAndGlyphs" >14</text><text x="235.1" y="356.31" text-anchor="middle" font-size="8.24" textLength="8.9" lengthAdjust="spacingAndGlyphs" >13</text><text x="218.1" y="364.27" text-anchor="middle" font-size="8.24" textLength="8.9" lengthAdjust="spacingAndGlyphs" >12</text><text x="235.1" y="374.14" text-anchor="middle" font-size="8.24" textLength="8.3" lengthAdjust="spacingAndGlyphs" >11</text><text x="218.1" y="382.58" text-anchor="middle" font-size="8.24" textLength="8.9" lengthAdjust="spacingAndGlyphs" >10</text><text x="235.1" y="392.76" text-anchor="middle" font-size="8.24" textLength="8.9" lengthAdjust="spacingAndGlyphs" >09</text><text x="218.1" y="401.04" text-anchor="middle" font-size="8.24" textLength="8.9" lengthAdjust="spacingAndGlyphs" >08</text><text x="235.1" y="410.93" text-anchor="middle" font-size="8.24" textLength="8.9" lengthAdjust="spacingAndGlyphs" >07</text><text x="218.1" y="419.8" text-anchor="middle" font-size="8.24" textLength="8.9" lengthAdjust="spacingAndGlyphs" >06</text><text x="235.1" y="429.51" text-anchor="middle" font-size="8.24" textLength="8.9" lengthAdjust="spacingAndGlyphs" >05</text><text x="218.1" y="437.97" text-anchor="middle" font-size="8.24" textLength="8.9" lengthAdjust="spacingAndGlyphs" >04</text><text x="235.1" y="447.99" text-anchor="middle" font-size="8.24" textLength="8.9" lengthAdjust="spacingAndGlyphs" >03</text><text x="218.1" y="456.93" text-anchor="middle" font-size="8.24" textLength="8.9" lengthAdjust="spacingAndGlyphs" >02</text><text x="249.4" y="507.4" text-anchor="middle" font-size="8.76" textLength="4.73" lengthAdjust="spacingAndGlyphs" >η</text><text x="234.8" y="523.7" text-anchor="middle" font-size="8.55" textLength="34.59" lengthAdjust="spacingAndGlyphs" >kW/stage</text><text transform="translate(144.9 172) rotate(-90)" text-anchor="middle" font-size="8.3" dy="2.9">H [m]</text><text transform="translate(546.5 172.5) rotate(-90)" text-anchor="middle" font-size="8.3" dy="2.9">H [ft]</text><text transform="translate(143.9 498.8) rotate(-90)" text-anchor="middle" font-size="8.3" dy="2.9">P<tspan font-size="5.5" dy="2">p</tspan><tspan dy="-2"> [kW]</tspan></text><text transform="translate(546 501.8) rotate(-90)" text-anchor="middle" font-size="8.3" dy="2.9">η [%]</text><text transform="translate(143.9 559.2) rotate(-90)" text-anchor="middle" font-size="8.3" dy="2.9">NPSH [m]</text><text transform="translate(546.3 560.4) rotate(-90)" text-anchor="middle" font-size="8.3" dy="2.9">NPSH [ft]</text><text transform="translate(547 611) rotate(-90)" text-anchor="middle" font-size="6.5" dy="2.9">05934_C_CH</text></g>
<text x="138.6" y="647" font-family="Liberation Sans, sans-serif" font-size="4.9" fill="#111" textLength="232" lengthAdjust="spacingAndGlyphs">These performances are valid for liquids with density ρ = 1.0 Kg/dm³ and kinematic viscosity ν = 1 mm²/sec.</text>
</svg>
</body></html>
